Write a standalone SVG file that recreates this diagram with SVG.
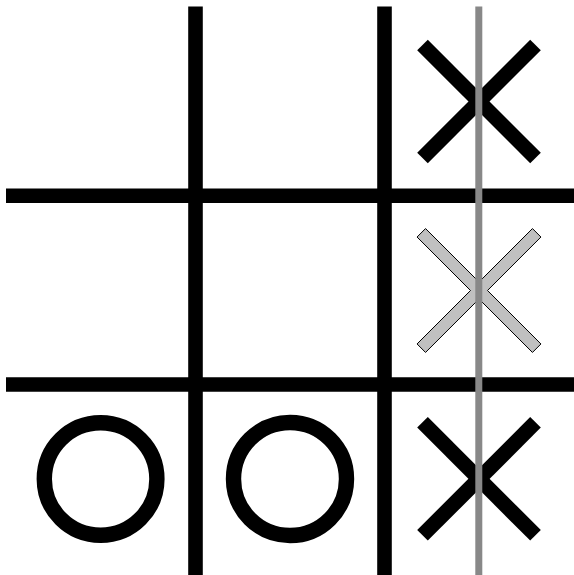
<svg xmlns="http://www.w3.org/2000/svg" width="574" height="575" viewBox="0 0 574 575">
  <style>
    .grid { stroke: #000; stroke-width: 14.6; fill: none; }
    .x { stroke: #000; stroke-width: 15; fill: none; stroke-linecap: butt; }
    .o { stroke: #000; stroke-width: 15.4; fill: none; }
    .xg { fill: #c0c0c0; stroke: #000; stroke-width: 1; stroke-linejoin: miter; }
    .win { stroke: #888888; stroke-width: 7; fill: none; }
  </style>
  <defs>
    <path id="xshape" d="M-53.46,-61.94 L0,-8.49 L53.46,-61.94 L61.94,-53.46 L8.49,0 L61.94,53.46 L53.46,61.94 L0,8.49 L-53.46,61.94 L-61.94,53.46 L-8.49,0 L-61.94,-53.46 Z"/>
  </defs>
  <rect x="0" y="0" width="574" height="575" fill="#ffffff"/>
  <g id="board">
    <line class="grid" x1="195.5" y1="6.5" x2="195.5" y2="575"/>
    <line class="grid" x1="384.5" y1="6.5" x2="384.5" y2="575"/>
    <line class="grid" x1="6" y1="195.8" x2="574" y2="195.8"/>
    <line class="grid" x1="6" y1="384.5" x2="574" y2="384.5"/>
  </g>
  <g id="x-top">
    <line class="x" x1="422.5" y1="45" x2="535.5" y2="158"/>
    <line class="x" x1="535.5" y1="45" x2="422.5" y2="158"/>
  </g>
  <g id="x-middle">
    <use href="#xshape" class="xg" transform="translate(479,290.5)"/>
  </g>
  <g id="x-bottom">
    <line class="x" x1="422.5" y1="422.3" x2="535.5" y2="535.3"/>
    <line class="x" x1="535.5" y1="422.3" x2="422.5" y2="535.3"/>
  </g>
  <g id="o-left">
    <circle class="o" cx="100.6" cy="479" r="56.3"/>
  </g>
  <g id="o-middle">
    <circle class="o" cx="290" cy="479" r="56.5"/>
  </g>
  <g id="win-line">
    <line class="win" x1="478.8" y1="6.5" x2="478.8" y2="575"/>
  </g>
</svg>
